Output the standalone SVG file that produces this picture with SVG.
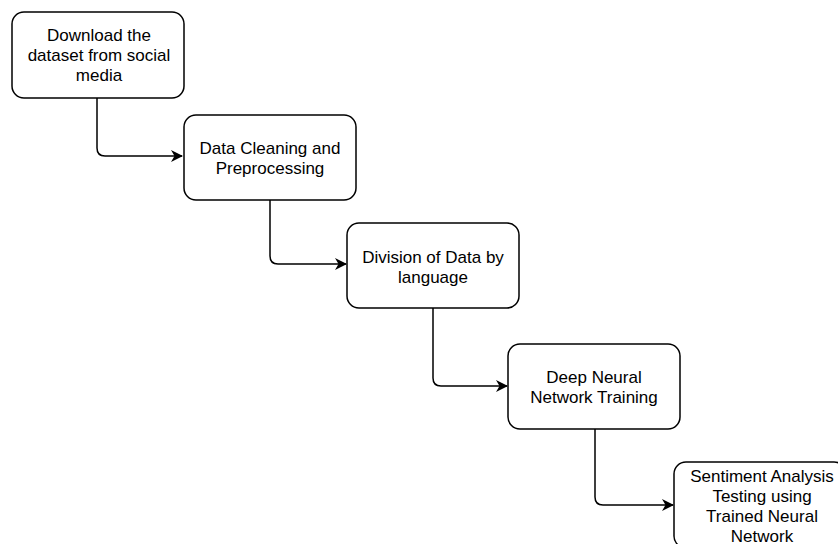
<svg xmlns="http://www.w3.org/2000/svg" width="838" height="544" viewBox="0 0 838 544">
<defs>
<style>
.box{fill:#fff;stroke:#000;stroke-width:1.5}
.t{font-family:"Liberation Sans",Arial,sans-serif;font-size:17px;fill:#000;text-anchor:middle}
.c{fill:none;stroke:#000;stroke-width:1.5}
</style>
<marker id="arr" viewBox="0 0 12 12" refX="11" refY="6" markerWidth="12" markerHeight="12" markerUnits="userSpaceOnUse" orient="auto">
<path d="M0,0 L12,6 L0,12 L3.5,6 Z" fill="#000"/>
</marker>
</defs>
<rect width="838" height="544" fill="#fff"/>
<g id="connectors">
<path class="c" d="M97,98 V148 Q97,156 105,156 H182" marker-end="url(#arr)"/>
<path class="c" d="M270,200 V256 Q270,264 278,264 H346" marker-end="url(#arr)"/>
<path class="c" d="M433,308 V378 Q433,386 441,386 H507" marker-end="url(#arr)"/>
<path class="c" d="M595,429 V497 Q595,505 603,505 H673" marker-end="url(#arr)"/>
</g>
<g id="n1">
<rect class="box" x="12" y="12" width="172" height="86" rx="12"/>
<text class="t" x="99" y="41">Download the</text>
<text class="t" x="99" y="61">dataset from social</text>
<text class="t" x="99" y="81">media</text>
</g>
<g id="n2">
<rect class="box" x="184" y="115" width="172" height="85" rx="12"/>
<text class="t" x="270" y="154">Data Cleaning and</text>
<text class="t" x="270" y="174">Preprocessing</text>
</g>
<g id="n3">
<rect class="box" x="347" y="223" width="172" height="85" rx="12"/>
<text class="t" x="433" y="263">Division of Data by</text>
<text class="t" x="433" y="283">language</text>
</g>
<g id="n4">
<rect class="box" x="508" y="344" width="172" height="85" rx="12"/>
<text class="t" x="594" y="383">Deep Neural</text>
<text class="t" x="594" y="403">Network Training</text>
</g>
<g id="n5">
<rect class="box" x="674" y="462" width="172" height="86" rx="12"/>
<text class="t" x="762" y="482">Sentiment Analysis</text>
<text class="t" x="762" y="502">Testing using</text>
<text class="t" x="762" y="522">Trained Neural</text>
<text class="t" x="762" y="542">Network</text>
</g>
</svg>
